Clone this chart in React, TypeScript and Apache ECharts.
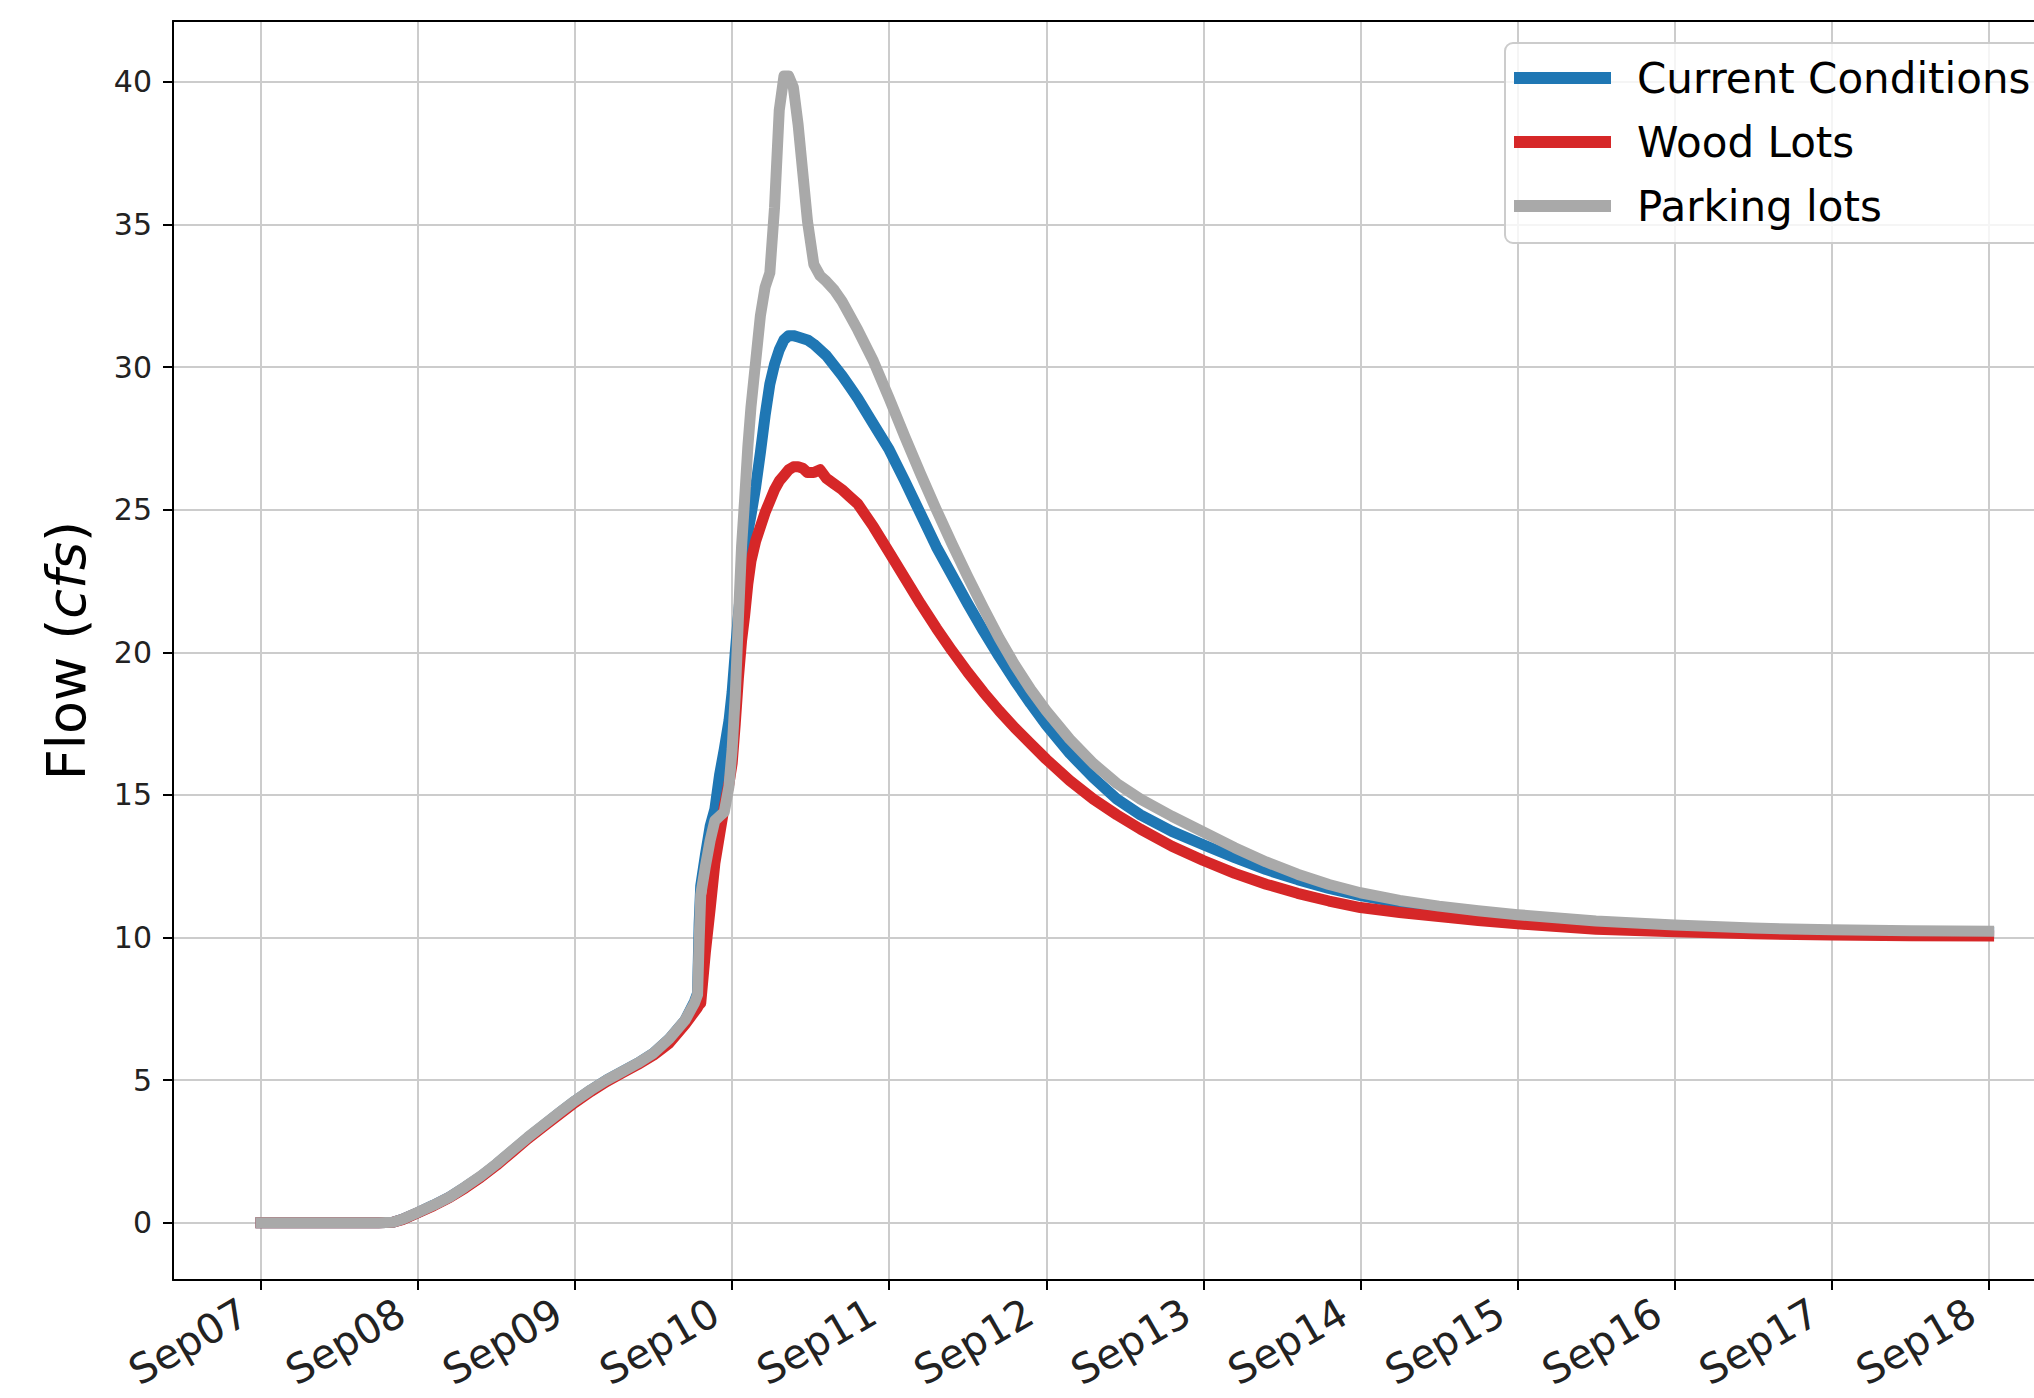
import React, { useEffect, useRef } from "react";
import * as echarts from "echarts";

// time in days from Sep07 00:00
const days = [
  0, 0.25, 0.5, 0.75, 0.84, 0.9, 1.0, 1.1, 1.2, 1.3, 1.4, 1.5, 1.6, 1.7, 1.8, 1.9,
  2.0, 2.1, 2.2, 2.3, 2.4, 2.5, 2.6, 2.7, 2.76, 2.78, 2.79, 2.8, 2.83, 2.86, 2.89,
  2.92, 2.95, 2.98, 3.0, 3.02, 3.04, 3.06, 3.08, 3.1, 3.12, 3.15, 3.18, 3.21, 3.24,
  3.27, 3.3, 3.33, 3.36, 3.39, 3.42, 3.45, 3.48, 3.52, 3.56, 3.6, 3.65, 3.7, 3.75,
  3.8, 3.9, 4.0, 4.1, 4.2, 4.3, 4.4, 4.5, 4.6, 4.7, 4.8, 4.9, 5.0, 5.15, 5.3, 5.45,
  5.6, 5.8, 6.0, 6.2, 6.4, 6.6, 6.8, 7.0, 7.25, 7.5, 7.75, 8.0, 8.5, 9.0, 9.5, 10.0,
  10.5, 11.0,
];

const currentConditions = [
  0, 0, 0, 0, 0.02, 0.12, 0.36, 0.62, 0.9, 1.25, 1.62, 2.05, 2.52, 2.98, 3.42, 3.85,
  4.27, 4.65, 5.0, 5.3, 5.6, 5.95, 6.45, 7.1, 7.75, 8.05, 10.5, 11.8, 12.9, 13.9, 14.5,
  15.7, 16.6, 17.6, 18.6, 20.0, 21.3, 22.5, 23.4, 24.2, 24.8, 25.8, 27.0, 28.3, 29.4,
  30.1, 30.6, 30.95, 31.1, 31.1, 31.05, 31.0, 30.95, 30.8, 30.6, 30.4, 30.05, 29.7, 29.3,
  28.9, 28.0, 27.1, 26.0, 24.85, 23.7, 22.7, 21.7, 20.75, 19.85, 19.0, 18.2, 17.45, 16.45, 15.6, 14.85,
  14.3, 13.72, 13.25, 12.8, 12.38, 12.03, 11.72, 11.47, 11.22, 11.04, 10.88, 10.75, 10.55, 10.4, 10.3, 10.24,
  10.2, 10.18,
];

const woodLots = [
  0, 0, 0, 0, 0.02, 0.11, 0.35, 0.6, 0.88, 1.22, 1.6, 2.02, 2.48, 2.95, 3.38, 3.8,
  4.22, 4.6, 4.95, 5.25, 5.55, 5.88, 6.3, 6.95, 7.4, 7.55, 7.65, 7.7, 9.5, 11.0, 12.6,
  13.6, 14.6, 15.4, 16.1, 17.5, 19.1, 20.4, 21.3, 22.4, 23.2, 23.9, 24.4, 24.9, 25.3,
  25.7, 26.0, 26.2, 26.4, 26.5, 26.5, 26.45, 26.3, 26.3, 26.4, 26.1, 25.9, 25.7, 25.45,
  25.2, 24.4, 23.5, 22.6, 21.7, 20.85, 20.05, 19.3, 18.6, 17.95, 17.35, 16.8, 16.25, 15.5, 14.85, 14.3,
  13.8, 13.2, 12.7, 12.25, 11.87, 11.55, 11.28, 11.05, 10.88, 10.74, 10.6, 10.48, 10.29, 10.2, 10.13, 10.09,
  10.06, 10.05,
];

const parkingLots = [
  0, 0, 0, 0, 0.02, 0.12, 0.37, 0.62, 0.9, 1.26, 1.64, 2.07, 2.54, 3.0, 3.43, 3.86,
  4.28, 4.66, 5.0, 5.3, 5.6, 5.95, 6.45, 7.1, 7.7, 8.0, 9.9, 11.5, 12.5, 13.4, 14.1,
  14.25, 14.4, 15.3, 16.6, 18.5, 21.2, 23.7, 25.4, 27.2, 28.6, 30.2, 31.8, 32.8, 33.3,
  35.6, 39.0, 40.2, 40.2, 39.8, 38.5, 36.8, 35.1, 33.6, 33.2, 33.0, 32.7, 32.3, 31.8,
  31.3, 30.2, 28.9, 27.55, 26.25, 25.0, 23.8, 22.65, 21.55, 20.5, 19.55, 18.7, 17.95, 16.95, 16.1, 15.4,
  14.85, 14.25, 13.7, 13.15, 12.65, 12.22, 11.86, 11.57, 11.3, 11.1, 10.94, 10.8, 10.58, 10.44, 10.33, 10.27,
  10.24, 10.22,
];

const seriesNames = ["Current Conditions", "Wood Lots", "Parking lots"];
const seriesColors = ["#1f77b4", "#d62728", "#a9a9a9"];
const xTickValues = [0, 1, 2, 3, 4, 5, 6, 7, 8, 9, 10, 11];
const xTickLabels = ["Sep07", "Sep08", "Sep09", "Sep10", "Sep11", "Sep12", "Sep13", "Sep14", "Sep15", "Sep16", "Sep17", "Sep18"];
const yTickValues = [0, 5, 10, 15, 20, 25, 30, 35, 40];

const FONT = "DejaVu Sans";

export default function App() {
  const ref = useRef<HTMLDivElement>(null);

  useEffect(() => {
    if (!ref.current) return;
    const chart = echarts.init(ref.current, null, { renderer: "svg" });
    const pair = (vals: number[]) => days.map((d, i) => [d, vals[i]]);
    const valueSets = [currentConditions, woodLots, parkingLots];
    const gridLine = { show: true, lineStyle: { color: "#cccccc", width: 2 } };
    const xMin = -0.56;
    const xMax = 11.289;

    chart.setOption({
      animation: false,
      backgroundColor: "#ffffff",
      textStyle: { fontFamily: FONT },
      grid: {
        left: 173,
        top: 21,
        right: 0,
        height: 1259,
        show: false,
        containLabel: false,
        outerBoundsMode: "none",
      },
      legend: {
        data: seriesNames,
        orient: "vertical",
        left: 1505,
        top: 43,
        icon: "rect",
        itemWidth: 97,
        itemHeight: 12,
        itemGap: 18,
        padding: [12, 40, 14, 9],
        backgroundColor: "rgba(255,255,255,0.8)",
        borderColor: "#cccccc",
        borderWidth: 2,
        borderRadius: 8,
        textStyle: {
          fontSize: 42,
          fontFamily: FONT,
          color: "#000000",
          lineHeight: 46,
          padding: [0, 0, 0, 21],
        },
      },
      xAxis: [
        {
          type: "value",
          min: xMin,
          max: xMax,
          position: "bottom",
          axisLine: { show: true, onZero: false, lineStyle: { color: "#000", width: 2 } },
          axisTick: { show: true, customValues: xTickValues, length: 10, lineStyle: { color: "#000", width: 2 } },
          axisLabel: {
            customValues: xTickValues,
            formatter: (v: number) => xTickLabels[Math.round(v)] ?? "",
            rotate: 30,
            fontSize: 41,
            lineHeight: 32,
            fontFamily: FONT,
            color: "#222",
            margin: 20,
            padding: [0, 19, 0, 0],
          },
          splitLine: gridLine,
        },
        {
          type: "value",
          min: xMin,
          max: xMax,
          position: "top",
          axisLine: { show: true, onZero: false, lineStyle: { color: "#000", width: 2 } },
          axisTick: { show: false },
          axisLabel: { show: false },
          splitLine: { show: false },
        },
      ],
      yAxis: {
        type: "value",
        min: -2.006,
        max: 42.13,
        axisLine: { show: true, onZero: false, lineStyle: { color: "#000", width: 2 } },
        axisTick: { show: true, customValues: yTickValues, length: 10, lineStyle: { color: "#000", width: 2 } },
        axisLabel: {
          customValues: yTickValues,
          formatter: (v: number) => String(v),
          fontSize: 30,
          fontFamily: FONT,
          color: "#222",
          margin: 21,
        },
        splitLine: gridLine,
        name: "Flow ({i|cfs})",
        nameLocation: "middle",
        nameGap: 80,
        nameRotate: 90,
        nameTextStyle: {
          fontSize: 54,
          fontFamily: FONT,
          color: "#000",
          rich: { i: { fontStyle: "italic", fontSize: 54, fontFamily: FONT, color: "#000" } },
        },
      },
      series: seriesNames.map((name, k) => ({
        name,
        type: "line",
        data: pair(valueSets[k]),
        showSymbol: false,
        symbol: "none",
        color: seriesColors[k],
        lineStyle: { width: 11, color: seriesColors[k], cap: "square", join: "round" },
        emphasis: { disabled: true },
        xAxisIndex: 0,
      })),
    });

    return () => chart.dispose();
  }, []);

  return (
    <div
      ref={ref}
      style={{ position: "absolute", left: 0, top: 0, width: 2034, height: 1398, background: "#fff" }}
    />
  );
}
